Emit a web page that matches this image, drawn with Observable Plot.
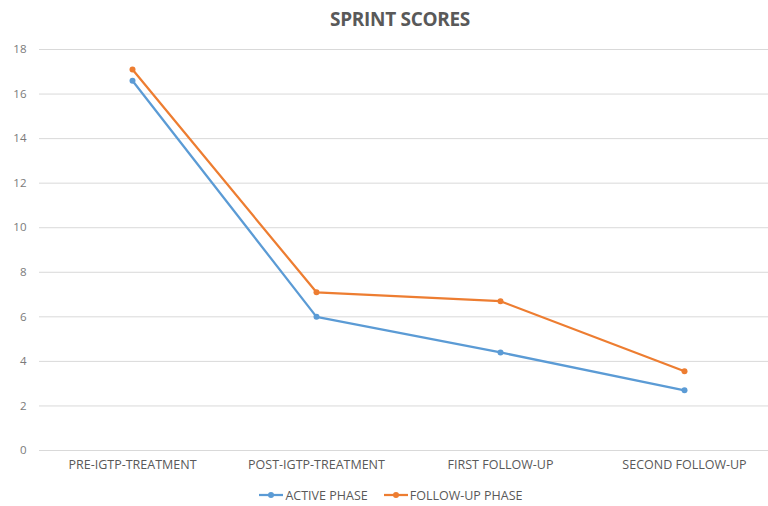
<!DOCTYPE html>
<html>
<head>
<meta charset="utf-8">
<script src="https://cdn.jsdelivr.net/npm/d3@7"></script>
<script src="https://cdn.jsdelivr.net/npm/@observablehq/plot@0.6"></script>
<style>
  body { margin: 0; background: #fff; font-family: "Open Sans", sans-serif; }
  #title { height: 36px; line-height: 38px; text-align: center; padding-left: 32px; font-size: 19px; font-weight: bold; color: #595959; letter-spacing: -0.3px; }
  #legend { height: 22px; display: flex; justify-content: center; align-items: center; gap: 16px; padding-left: 14px; font-size: 12.5px; color: #595959; }
  #legend span { display: inline-flex; align-items: center; gap: 2px; }
</style>
</head>
<body>
<div id="title">SPRINT SCORES</div>
<div id="chart"></div>
<div id="legend"></div>
<script>
const categories = ["PRE-IGTP-TREATMENT", "POST-IGTP-TREATMENT", "FIRST FOLLOW-UP", "SECOND FOLLOW-UP"];
const activePhase = [16.6, 6.0, 4.4, 2.7];
const followUpPhase = [17.1, 7.1, 6.7, 3.56];
const yTicks = [0, 2, 4, 6, 8, 10, 12, 14, 16, 18];
const seriesNames = ["ACTIVE PHASE", "FOLLOW-UP PHASE"];
const seriesColors = ["#5B9BD5", "#ED7D31"];

const rows = [];
categories.forEach((c, i) => {
  rows.push({cat: c, value: activePhase[i], series: seriesNames[0]});
  rows.push({cat: c, value: followUpPhase[i], series: seriesNames[1]});
});

const chart = Plot.plot({
  width: 768,
  height: 448,
  marginLeft: 39,
  marginRight: 0,
  marginTop: 13,
  marginBottom: 34,
  style: {fontFamily: '"Open Sans", sans-serif', fontSize: "11px", color: "#595959", background: "#fff"},
  x: {type: "band", domain: categories, padding: 0, range: [39, 776], label: null},
  y: {domain: [0, 18], label: null},
  color: {domain: seriesNames, range: seriesColors},
  marks: [
    Plot.ruleY(yTicks, {stroke: "#d9d9d9", strokeWidth: 1}),
    Plot.axisY({ticks: yTicks, tickSize: 0, tickPadding: 13, label: null, fill: "#7a7a7a", fontSize: 11.5}),
    Plot.axisX({tickSize: 0, tickPadding: 10, label: null, fill: "#595959", fontSize: 12.5}),
    Plot.line(rows, {x: "cat", y: "value", stroke: "series", z: "series", strokeWidth: 2.25}),
    Plot.dot(rows, {x: "cat", y: "value", fill: "series", r: 3})
  ]
});
document.getElementById("chart").appendChild(chart);

const legend = document.getElementById("legend");
seriesNames.forEach((name, i) => {
  const span = document.createElement("span");
  span.innerHTML = `<svg width="24" height="8"><line x1="0" y1="4" x2="24" y2="4" stroke="${seriesColors[i]}" stroke-width="2.25"/><circle cx="12" cy="4" r="3" fill="${seriesColors[i]}"/></svg>${name}`;
  legend.appendChild(span);
});
</script>
</body>
</html>
